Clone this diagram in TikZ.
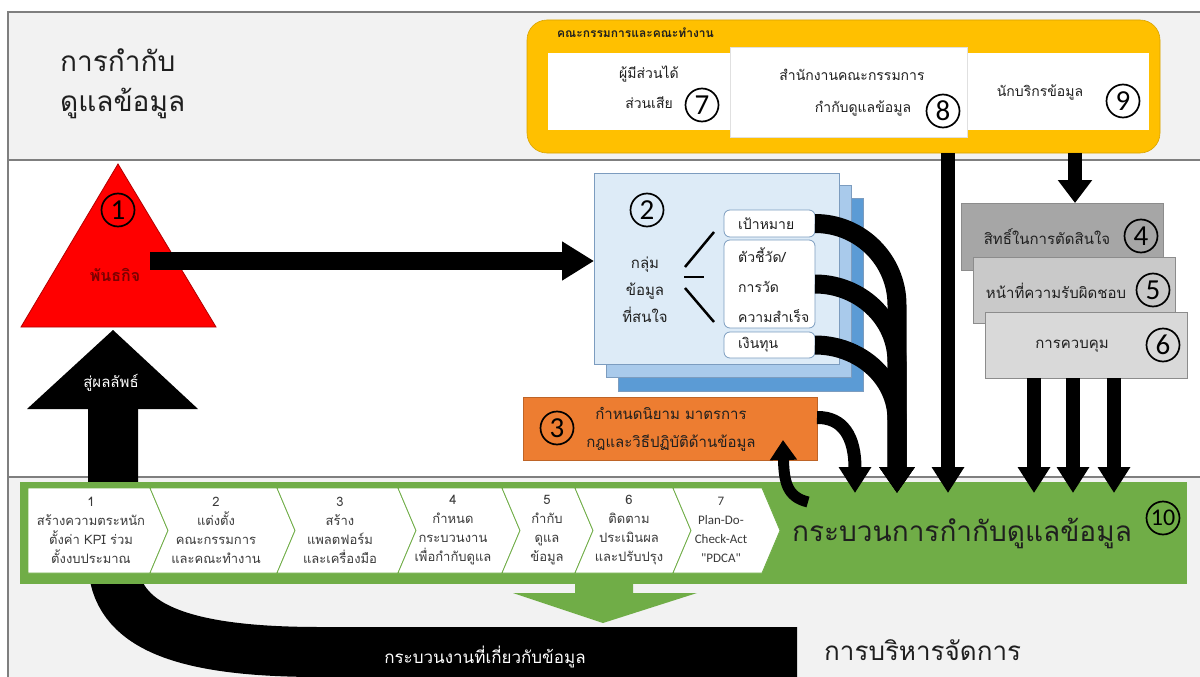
\documentclass[tikz,border=0pt]{standalone}
\usepackage{fontspec}
\setmainfont[Script=Thai]{Loma}
\newfontfamily\carl{Carlito}
\usetikzlibrary{arrows.meta}
\definecolor{bandgray}{HTML}{F2F2F2}
\definecolor{framegray}{HTML}{7F7F7F}
\definecolor{yel}{HTML}{FFC000}
\definecolor{tred}{HTML}{FF0000}
\definecolor{tdark}{HTML}{7B0000}
\definecolor{bfront}{HTML}{DDEBF7}
\definecolor{bmid}{HTML}{A9CAEB}
\definecolor{bback}{HTML}{5B9BD5}
\definecolor{bedge}{HTML}{7C9CBF}
\definecolor{orng}{HTML}{ED7D31}
\definecolor{gA}{HTML}{A6A6A6}
\definecolor{gB}{HTML}{C9C9C9}
\definecolor{gC}{HTML}{D9D9D9}
\definecolor{gedge}{HTML}{8C8C8C}
\definecolor{grn}{HTML}{70AD47}
\definecolor{txt}{HTML}{1F1F1F}
\definecolor{chtxt}{HTML}{3A3A3A}
\newcommand\fsz[2]{\fontsize{#1}{#2}\selectfont}
\begin{document}
\begin{tikzpicture}[x=1pt,y=-1pt,
  cnum/.style={circle,draw=black,line width=1.7pt,minimum size=33pt,inner sep=0pt,font=\carl\fsz{29}{29}},
  rect/.style={inner sep=0pt,outer sep=0pt,rectangle},
  lbl/.style={text=txt,inner sep=0pt,align=center},
  sub/.style={rect,fill=white,draw=bedge,line width=0.8pt,rounded corners=6pt,minimum width=91pt},
  subtxt/.style={text=txt,inner sep=0pt,anchor=west,align=left,font=\fsz{14}{30}},
  graybox/.style={rect,draw=gedge,line width=0.8pt,minimum width=202pt,minimum height=66pt},
  chev/.style={fill=white,draw=grn,line width=0.8pt},
  chtx/.style={text=chtxt,inner sep=0pt,align=center,font=\fsz{13}{19}},
  downarr/.style={draw=black,line width=14pt,-{Triangle[length=26pt,width=31pt]}},
]
\useasboundingbox (0,0) rectangle (1200,677);
\begin{scope}
\clip (0,0) rectangle (1200,677);
% bands
\fill[white] (0,0) rectangle (1200,677);
\fill[bandgray] (8,12) rectangle (1200,160);
\fill[bandgray] (8,477) rectangle (1200,677);
\draw[framegray,line width=1.6pt] (1200,12) -- (8,12) -- (8,677);
\draw[framegray,line width=1.6pt] (8,160) -- (1200,160);
\draw[framegray,line width=1.6pt] (8,477) -- (1200,477);

% title
\node[lbl,anchor=west,align=left,font=\fsz{28}{40}] (title) at (60,84) {การกำกับ\\ดูแลข้อมูล};

% committee box
\node[rect,fill=yel,draw=yel!85!black,line width=0.6pt,rounded corners=20pt,minimum width=633pt,minimum height=133pt] (ybox) at (843.5,86.5) {};
\node[lbl,anchor=west,font=\fsz{12}{14}\bfseries] (ytitle) at (557,33) {คณะกรรมการและคณะทำงาน};
\node[rect,fill=white,minimum width=182pt,minimum height=77pt] (b7) at (639,91.5) {};
\node[rect,fill=white,minimum width=182pt,minimum height=77pt] (b9) at (1058,91.5) {};
\node[rect,fill=white,draw=black!12,line width=0.6pt,minimum width=237pt,minimum height=90pt] (b8) at (848.5,92) {};
\node[lbl,font=\fsz{14}{30}] (t7) at (649,87) {ผู้มีส่วนได้\\ส่วนเสีย};
\node[cnum] (c7) at (702,105) {7};
\node[lbl,font=\fsz{14}{32}] (t8) at (852,93) {สำนักงานคณะกรรมการ\\\hspace*{22pt}กำกับดูแลข้อมูล};
\node[cnum] (c8) at (943,111) {8};
\node[lbl,font=\fsz{14}{16}] (t9) at (1040,92) {นักบริกรข้อมูล};
\node[cnum] (c9) at (1123,101) {9};

% black band (process) behind green
\coordinate (res) at (113,405);
\coordinate (bandend) at (797,652);
\draw[black,line width=50pt] (res) -- (113,560) .. controls (113,628) and (185,652) .. (320,652) -- (bandend);
\fill[black] (27,409) -- (198,409) -- (113,330) -- cycle;
\node[lbl,text=white,font=\fsz{15}{17}] (tres) at (111,383) {สู่ผลลัพธ์};
\node[lbl,text=white,font=\fsz{17}{19}] (tproc) at (485,657) {กระบวนงานที่เกี่ยวกับข้อมูล};

% triangle mission
\fill[tred,draw=tred!70!black,line width=0.8pt] (118,164) -- (216,327) -- (21,327) -- cycle;
\node[cnum] (c1) at (118,210) {1};
\node[lbl,text=tdark,font=\fsz{16}{18}\bfseries] (t1) at (115,275) {พันธกิจ};
\coordinate (tri) at (150,261);

% box 2
\node[rect,fill=bback,draw=bedge,line width=0.8pt,minimum width=245pt,minimum height=193pt] (b2back) at (740.5,294.5) {};
\node[rect,fill=bmid,draw=bedge,line width=0.8pt,minimum width=245pt,minimum height=192pt] (b2mid) at (728.5,281) {};
\node[rect,fill=bfront,draw=bedge,line width=0.8pt,minimum width=245pt,minimum height=191pt] (b2front) at (716.5,268.5) {};
\node[cnum] (c2) at (647,210) {2};
\node[lbl,font=\fsz{15}{27}] (t2) at (645,290) {กลุ่ม\\ข้อมูล\\ที่สนใจ};
\draw[black,line width=2.5pt] (685,267) -- (714,232);
\draw[black,line width=2.5pt] (684,277) -- (704,277);
\draw[black,line width=2.5pt] (685,288) -- (714,322);
\node[sub,minimum height=27pt] (goal) at (769.5,223.5) {};
\node[sub,minimum height=88pt] (kpi) at (769.5,284) {};
\node[sub,minimum height=26pt] (fund) at (769.5,345) {};
\node[subtxt] (tgoal) at (738,223.5) {เป้าหมาย};
\node[subtxt] (tkpi) at (738,285) {ตัวชี้วัด/\\การวัด\\ความสำเร็จ};
\node[subtxt] (tfund) at (738,345) {เงินทุน};

% mission arrow
\draw[black,line width=18pt,-{Triangle[length=32pt,width=37pt]}] (tri) -- (tri -| b2front.west);

% box 3
\node[rect,fill=orng,draw=orng!80!black,line width=0.6pt,minimum width=294pt,minimum height=63pt] (b3) at (670,428.5) {};
\node[cnum] (c3) at (557,428) {3};
\node[lbl,font=\fsz{15}{28}] (t3) at (671,429) {กำหนดนิยาม มาตรการ\\กฎและวิธีปฏิบัติด้านข้อมูล};

% boxes 4-6
\node[graybox,fill=gA,minimum height=67pt] (b4) at (1062,236.5) {};
\node[graybox,fill=gB] (b5) at (1074,290) {};
\node[graybox,fill=gC] (b6) at (1086,345) {};
\node[lbl,font=\fsz{15}{17}] (t4) at (1047,237) {สิทธิ์ในการตัดสินใจ};
\node[cnum] (c4) at (1141,236) {4};
\node[lbl,font=\fsz{15}{17}] (t5) at (1056,291) {หน้าที่ความรับผิดชอบ};
\node[cnum] (c5) at (1153,290) {5};
\node[lbl,font=\fsz{15}{17}] (t6) at (1072,346) {การควบคุม};
\node[cnum] (c6) at (1163,345) {6};

% green band
\node[rect,fill=grn,minimum width=1167pt,minimum height=102pt] (gband) at (603.5,533) {};
\fill[grn] (575,580) -- (633,580) -- (633,593) -- (697,593) -- (603,623) -- (513,593) -- (575,593) -- cycle;
\filldraw[chev] (28,488) -- (150,488) -- (168,530.5) -- (150,573) -- (28,573) -- cycle;
\filldraw[chev] (150,488) -- (277,488) -- (295,530.5) -- (277,573) -- (150,573) -- (168,530.5) -- cycle;
\filldraw[chev] (277,488) -- (398,488) -- (416,530.5) -- (398,573) -- (277,573) -- (295,530.5) -- cycle;
\filldraw[chev] (398,488) -- (502,488) -- (520,530.5) -- (502,573) -- (398,573) -- (416,530.5) -- cycle;
\filldraw[chev] (502,488) -- (575,488) -- (593,530.5) -- (575,573) -- (502,573) -- (520,530.5) -- cycle;
\filldraw[chev] (575,488) -- (673,488) -- (691,530.5) -- (673,573) -- (575,573) -- (593,530.5) -- cycle;
\filldraw[chev] (673,488) -- (762,488) -- (780,530.5) -- (762,573) -- (673,573) -- (691,530.5) -- cycle;
\node[chtx] (s1) at (91,530) {1\\สร้างความตระหนัก\\ตั้งค่า KPI ร่วม\\ตั้งงบประมาณ};
\node[chtx] (s2) at (216,530) {2\\แต่งตั้ง\\คณะกรรมการ\\และคณะทำงาน};
\node[chtx] (s3) at (340,530) {3\\สร้าง\\แพลตฟอร์ม\\และเครื่องมือ};
\node[chtx] (s4) at (453,530) {4\\กำหนด\\กระบวนงาน\\เพื่อกำกับดูแล};
\node[chtx] (s5) at (547,530) {5\\กำกับ\\ดูแล\\ข้อมูล};
\node[chtx] (s6) at (629,530) {6\\ติดตาม\\ประเมินผล\\และปรับปรุง};
\node[chtx,font=\carl\fsz{13}{19}] (s7) at (721,530) {7\\Plan-Do-\\Check-Act\\"PDCA"};
\node[lbl,font=\fsz{28}{30}] (t10) at (962,533) {กระบวนการกำกับดูแลข้อมูล};
\node[cnum,font=\carl\fsz{24}{24}] (c10) at (1163,518) {10};

% bottom label
\node[lbl,anchor=west,font=\fsz{26}{28}] (mgmt) at (824,650) {การบริหารจัดการ};

% arrows into band
\coordinate (e3) at (855,493);
\coordinate (e2) at (897,493);
\coordinate (e8) at (948,493);
\coordinate (e6a) at (1034,493);
\coordinate (e6b) at (1073,493);
\coordinate (e6c) at (1114,493);
\draw[downarr,line width=19pt,-{Triangle[length=26pt,width=34pt]}] (goal.east) to[out=0,in=90] (897,305) -- (e2);
\draw[downarr,line width=19pt,-{Triangle[length=26pt,width=34pt]}] (kpi.east) to[out=0,in=90] (897,362) -- (e2);
\draw[downarr,line width=19pt,-{Triangle[length=26pt,width=34pt]}] (fund.east) to[out=0,in=90] (897,420) -- (e2);
\draw[downarr,line width=13pt] ([yshift=11pt]b3.east) .. controls (843,417) and (855,437) .. (855,468) -- (e3);
\draw[downarr] (ybox.south -| e8) -- (e8);
\draw[downarr] (b6.south -| e6a) -- (e6a);
\draw[downarr] (b6.south -| e6b) -- (e6b);
\draw[downarr] (b6.south -| e6c) -- (e6c);
\coordinate (e9) at (1075,203);
\draw[downarr,-{Triangle[length=23pt,width=33pt]}] (ybox.south -| e9) -- (e9);
\coordinate (r3) at (783,440);
\draw[draw=black,line width=11pt,-{Triangle[length=20pt,width=26pt]}] (808,502) .. controls (787,497) and (784,482) .. (r3);
\end{scope}
\end{tikzpicture}
\end{document}
